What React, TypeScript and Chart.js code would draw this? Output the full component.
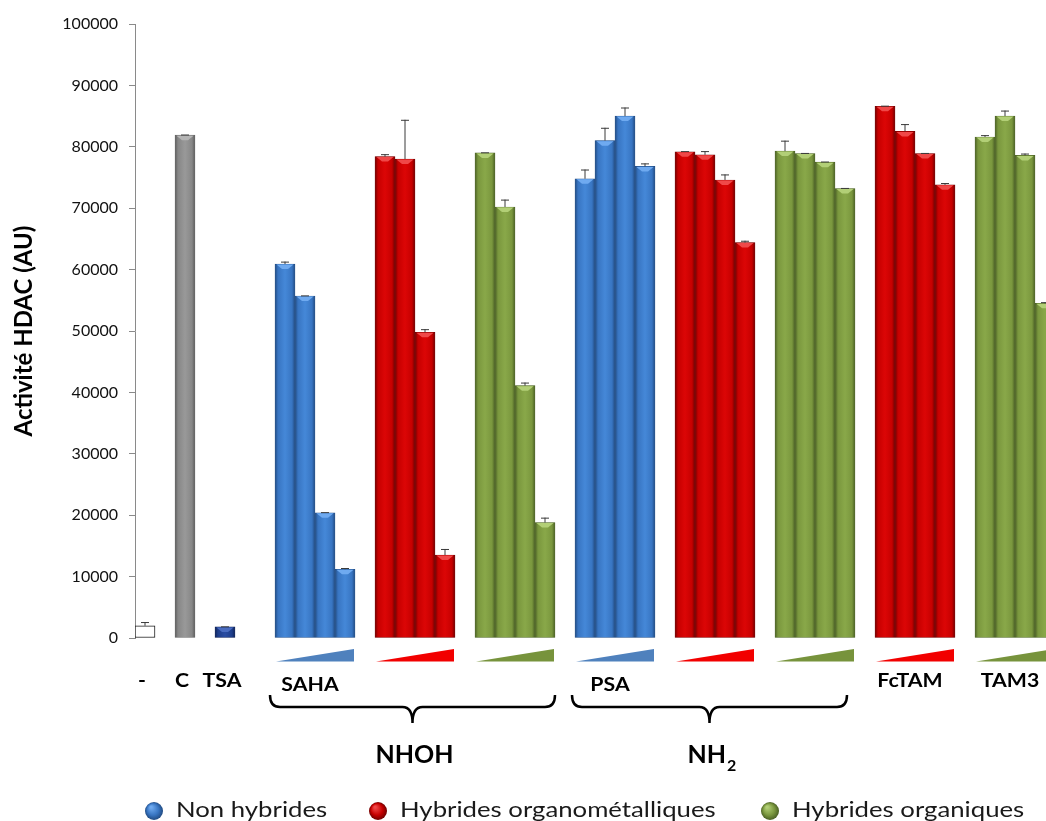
import React, { useEffect, useRef } from 'react';
import { Chart, registerables } from 'chart.js';

Chart.register(...registerables);

// ---------- data ----------
const controlLabels = ['-', 'C', 'TSA'];
const controlValues = [2000, 81900, 1800];
const controlErrTops = [2600, 82000, 1900];

const groupLabels = ['SAHA', '', '', 'PSA', '', '', 'FcTAM', 'TAM3'];
const groupKinds = ['non', 'organo', 'organic', 'non', 'organo', 'organic', 'organo', 'organic'];

const sahaValues = [60900, 55700, 20400, 11200];
const sahaErrTops = [61300, 55800, 20500, 11400];
const nhohOrganoValues = [78400, 78000, 49800, 13500];
const nhohOrganoErrTops = [78800, 84400, 50300, 14500];
const nhohOrganicValues = [79000, 70200, 41100, 18800];
const nhohOrganicErrTops = [79100, 71400, 41600, 19600];
const psaValues = [74800, 81000, 85000, 76800];
const psaErrTops = [76300, 83100, 86400, 77300];
const nh2OrganoValues = [79200, 78700, 74600, 64400];
const nh2OrganoErrTops = [79300, 79300, 75500, 64700];
const nh2OrganicValues = [79300, 78900, 77500, 73200];
const nh2OrganicErrTops = [81000, 79000, 77600, 73300];
const fctamValues = [86600, 82500, 78900, 73800];
const fctamErrTops = [86700, 83700, 79000, 74100];
const tam3Values = [81600, 85000, 78600, 54500];
const tam3ErrTops = [81900, 85900, 78900, 54700];

const groupValues = [sahaValues, nhohOrganoValues, nhohOrganicValues, psaValues, nh2OrganoValues, nh2OrganicValues, fctamValues, tam3Values];
const groupErrTops = [sahaErrTops, nhohOrganoErrTops, nhohOrganicErrTops, psaErrTops, nh2OrganoErrTops, nh2OrganicErrTops, fctamErrTops, tam3ErrTops];

const seriesNames = ['Non hybrides', 'Hybrides organométalliques', 'Hybrides organiques'];
const seriesKinds = ['non', 'organo', 'organic'];
const familyLabels = ['NHOH', 'NH'];
const familySubscripts = ['', '2'];
const familyGroupRanges = [[0, 2], [3, 5]];

const yTicks = [0, 10000, 20000, 30000, 40000, 50000, 60000, 70000, 80000, 90000, 100000];

// ---------- layout of category slots ----------
const SLOTS = 46;
const controlSlots = [0, 2, 4];
const groupStart = (g: number) => 7 + 5 * g;
const braceInsets = [[-5, 0], [-3, -8]];

const palette: Record<string, { base: string; light: string; dark: string; top: string; wedge: string }> = {
  non: { base: '#3875C2', light: '#4588D8', dark: '#214B82', top: '#6FAAF0', wedge: '#4F81BD' },
  organo: { base: '#C60000', light: '#DC0606', dark: '#700000', top: '#F04848', wedge: '#F20000' },
  organic: { base: '#7A973E', light: '#89A849', dark: '#4A6024', top: '#B2CF76', wedge: '#77933C' },
  grey: { base: '#878787', light: '#999999', dark: '#5c5c5c', top: '#B5B5B5', wedge: '#888' },
  navy: { base: '#1E3D8A', light: '#2A4DA3', dark: '#0F2257', top: '#4A6CC0', wedge: '#1E3D8A' },
};

function buildSeries(kind: string) {
  const vals: (number | null)[] = new Array(SLOTS).fill(null);
  const errs: (number | null)[] = new Array(SLOTS).fill(null);
  groupKinds.forEach((k, g) => {
    if (k !== kind) return;
    groupValues[g].forEach((v, i) => {
      vals[groupStart(g) + i] = v;
      errs[groupStart(g) + i] = groupErrTops[g][i];
    });
  });
  return { vals, errs };
}

function single(idx: number) {
  const vals: (number | null)[] = new Array(SLOTS).fill(null);
  const errs: (number | null)[] = new Array(SLOTS).fill(null);
  vals[controlSlots[idx]] = controlValues[idx];
  errs[controlSlots[idx]] = controlErrTops[idx];
  return { vals, errs };
}

const FONT = 'Lato';

function stretchedText(ctx: CanvasRenderingContext2D, text: string, x: number, y: number, sx: number, align: 'left' | 'center') {
  ctx.save();
  ctx.translate(x, y);
  ctx.scale(sx, 1);
  ctx.textAlign = align;
  ctx.fillText(text, 0, 0);
  ctx.restore();
}

export default function App() {
  const ref = useRef<HTMLCanvasElement | null>(null);

  useEffect(() => {
    if (!ref.current) return;

    const gradientFill = (key: string) => (ctx: any) => {
      const p = palette[key];
      const chart = ctx.chart;
      const xs = chart.scales && chart.scales.x;
      if (!xs || !chart.chartArea) return p.base;
      const cx = xs.getPixelForValue(ctx.dataIndex);
      const half = 10;
      const g = chart.ctx.createLinearGradient(cx - half, 0, cx + half, 0);
      g.addColorStop(0, p.dark);
      g.addColorStop(0.15, p.base);
      g.addColorStop(0.5, p.light);
      g.addColorStop(0.85, p.base);
      g.addColorStop(1, p.dark);
      return g;
    };

    const labels = Array.from({ length: SLOTS }, (_, i) => String(i));
    const datasets: any[] = [];
    const errMap: { key: string; errs: (number | null)[] }[] = [];

    const blank = single(0);
    datasets.push({ label: controlLabels[0], data: blank.vals, backgroundColor: '#ffffff', borderColor: '#1a1a1a', borderWidth: 1, _key: 'blank' });
    errMap.push({ key: 'blank', errs: blank.errs });
    const c = single(1);
    datasets.push({ label: controlLabels[1], data: c.vals, backgroundColor: gradientFill('grey'), borderColor: '#6a6a6a', borderWidth: 0.5, _key: 'grey' });
    errMap.push({ key: 'grey', errs: c.errs });
    const t = single(2);
    datasets.push({ label: controlLabels[2], data: t.vals, backgroundColor: gradientFill('navy'), borderColor: '#102050', borderWidth: 0.5, _key: 'navy' });
    errMap.push({ key: 'navy', errs: t.errs });

    seriesKinds.forEach((k, i) => {
      const s = buildSeries(k);
      datasets.push({ label: seriesNames[i], data: s.vals, backgroundColor: gradientFill(k), borderColor: palette[k].dark, borderWidth: 0.5, _key: k });
      errMap.push({ key: k, errs: s.errs });
    });

    datasets.forEach((d) => {
      d.grouped = false;
      d.barPercentage = 1;
      d.categoryPercentage = 1;
      d.borderSkipped = false;
    });

    const barDecor = {
      id: 'barDecor',
      afterDatasetsDraw(chart: any) {
        const ctx = chart.ctx;
        const ys = chart.scales.y;
        ctx.save();
        chart.data.datasets.forEach((ds: any, di: number) => {
          const meta = chart.getDatasetMeta(di);
          const key = ds._key;
          meta.data.forEach((bar: any, i: number) => {
            const v = ds.data[i];
            if (v == null) return;
            const left = bar.x - bar.width / 2;
            const right = bar.x + bar.width / 2;
            if (key !== 'blank') {
              const p = palette[key];
              ctx.fillStyle = p.top;
              ctx.beginPath();
              ctx.moveTo(left + 1.5, bar.y + 0.5);
              ctx.lineTo(right - 1.5, bar.y + 0.5);
              ctx.lineTo(bar.x + 3, bar.y + 5);
              ctx.lineTo(bar.x - 3, bar.y + 5);
              ctx.closePath();
              ctx.fill();
            }
            const e = errMap[di].errs[i];
            if (e != null) {
              const ye = ys.getPixelForValue(e);
              ctx.strokeStyle = '#3a3a3a';
              ctx.lineWidth = 1;
              ctx.beginPath();
              if (bar.y - ye > 1) {
                ctx.moveTo(bar.x, bar.y);
                ctx.lineTo(bar.x, ye);
              }
              ctx.moveTo(bar.x - 4, ye + 0.5);
              ctx.lineTo(bar.x + 4, ye + 0.5);
              ctx.stroke();
            }
          });
        });
        ctx.restore();
      },
    };

    const annotations = {
      id: 'annotations',
      afterDraw(chart: any) {
        const ctx = chart.ctx;
        const xs = chart.scales.x;
        const base = chart.chartArea.bottom;
        const cw = xs.getPixelForValue(1) - xs.getPixelForValue(0);
        ctx.save();

        // concentration wedges
        groupKinds.forEach((k, g) => {
          const s = groupStart(g);
          const x0 = xs.getPixelForValue(s) - cw / 2 + 1;
          const x1 = xs.getPixelForValue(s + 3) + cw / 2 - 1;
          ctx.fillStyle = palette[k].wedge;
          ctx.beginPath();
          ctx.moveTo(x0, base + 23.5);
          ctx.lineTo(x1, base + 11);
          ctx.lineTo(x1, base + 23.5);
          ctx.closePath();
          ctx.fill();
        });

        // compound labels
        ctx.fillStyle = '#000';
        ctx.textBaseline = 'alphabetic';
        ctx.font = `bold 19px ${FONT}`;
        controlLabels.forEach((lab, i) => {
          stretchedText(ctx, lab, xs.getPixelForValue(controlSlots[i]) - 3, base + 49, 1.12, 'center');
        });
        groupLabels.forEach((lab, g) => {
          if (!lab) return;
          const s = groupStart(g);
          const cx = (xs.getPixelForValue(s) + xs.getPixelForValue(s + 3)) / 2 - 5;
          const dy = g === 0 || g === 3 ? 53 : 49;
          stretchedText(ctx, lab, cx, base + dy, 1.12, 'center');
        });

        // braces + family labels
        familyGroupRanges.forEach((r, fi) => {
          const x0 = xs.getPixelForValue(groupStart(r[0])) - cw / 2 + braceInsets[fi][0];
          const x1 = xs.getPixelForValue(groupStart(r[1]) + 3) + cw / 2 + braceInsets[fi][1];
          const mid = (x0 + x1) / 2;
          const yTop = base + 57;
          const yLine = base + 69;
          const yTip = base + 85;
          const rr = 10;
          ctx.strokeStyle = '#000';
          ctx.lineWidth = 2.5;
          ctx.beginPath();
          ctx.moveTo(x0, yTop);
          ctx.quadraticCurveTo(x0, yLine, x0 + rr, yLine);
          ctx.lineTo(mid - rr, yLine);
          ctx.quadraticCurveTo(mid, yLine, mid, yTip);
          ctx.quadraticCurveTo(mid, yLine, mid + rr, yLine);
          ctx.lineTo(x1 - rr, yLine);
          ctx.quadraticCurveTo(x1, yLine, x1, yTop);
          ctx.stroke();

          const main = familyLabels[fi];
          const sub = familySubscripts[fi];
          ctx.font = `bold 25px ${FONT}`;
          const wMain = ctx.measureText(main).width;
          ctx.font = `bold 16px ${FONT}`;
          const wSub = sub ? ctx.measureText(sub).width : 0;
          const start = mid + 2 - (wMain + wSub) / 2;
          ctx.textAlign = 'left';
          ctx.font = `bold 25px ${FONT}`;
          ctx.fillText(main, start, base + 125);
          if (sub) {
            ctx.font = `bold 16px ${FONT}`;
            ctx.fillText(sub, start + wMain + 1, base + 133);
          }
        });

        // legend
        const legendX = [154, 378, 770];
        const legendY = 811;
        seriesNames.forEach((name, i) => {
          const p = palette[seriesKinds[i]];
          const cx = legendX[i];
          const grad = ctx.createRadialGradient(cx - 3, legendY - 4, 1, cx, legendY, 9);
          grad.addColorStop(0, p.top);
          grad.addColorStop(0.6, p.base);
          grad.addColorStop(1, p.dark);
          ctx.fillStyle = grad;
          ctx.beginPath();
          ctx.arc(cx, legendY, 9, 0, Math.PI * 2);
          ctx.fill();
          ctx.fillStyle = '#1a1a1a';
          ctx.font = `22px ${FONT}`;
          stretchedText(ctx, name, cx + 22, legendY + 6, 1.17, 'left');
        });

        ctx.restore();
      },
    };

    const chart = new Chart(ref.current, {
      type: 'bar',
      data: { labels, datasets },
      options: {
        responsive: false,
        animation: false,
        devicePixelRatio: 1,
        layout: { padding: { top: 24, right: 15, left: 0, bottom: 0 } },
        plugins: {
          legend: { display: false },
          tooltip: { enabled: false },
          title: { display: false },
        },
        scales: {
          x: {
            type: 'category',
            offset: true,
            grid: { display: false },
            border: { display: false },
            ticks: { display: false },
            afterFit: (s: any) => { s.height = 183; },
          },
          y: {
            min: 0,
            max: 100000,
            afterBuildTicks: (s: any) => { s.ticks = yTicks.map((v) => ({ value: v })); },
            ticks: {
              padding: 11,
              color: '#111',
              font: { family: FONT, size: 16 },
              callback: (v: any) => String(v),
            },
            grid: { drawOnChartArea: false, tickLength: 6, color: '#8a8a8a' },
            border: { display: true, color: '#8a8a8a' },
            title: {
              display: true,
              text: 'Activité HDAC (AU)',
              color: '#000',
              font: { family: FONT, size: 24, weight: 'bold' },
              padding: { top: 10, bottom: 0 },
            },
            afterFit: (s: any) => { s.width = 135; },
          },
        },
      },
      plugins: [barDecor, annotations],
    } as any);

    return () => chart.destroy();
  }, []);

  return (
    <div style={{ position: 'fixed', left: 0, top: 0, width: 1046, height: 821, overflow: 'hidden', background: '#fff' }}>
      <canvas ref={ref} width={1070} height={821} style={{ display: 'block' }} />
    </div>
  );
}
